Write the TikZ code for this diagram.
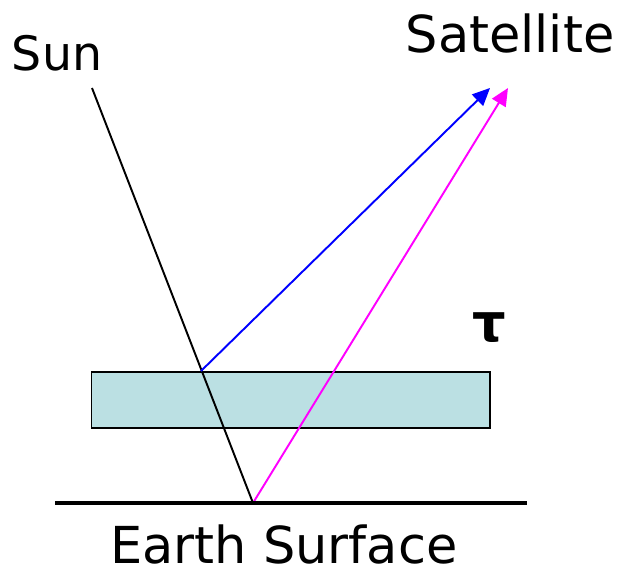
\documentclass[tikz,border=0pt]{standalone}
\usepackage{fontspec}
\setmainfont{DejaVu Sans}
\usetikzlibrary{arrows.meta}
\definecolor{boxfill}{HTML}{BBE0E3}
\definecolor{magray}{HTML}{FF00FF}
\begin{document}
\begin{tikzpicture}[x=0.02cm,y=-0.02cm,
  lbl/.style={font=\fontsize{29}{34}\selectfont, inner sep=0pt, anchor=base},
  ray/.style={line width=1.1pt},
  arr/.style={ray,-{Triangle[length=10pt,width=9pt]}}]
\useasboundingbox (0,0) rectangle (622,567);
\coordinate (sun) at (92,88);
\coordinate (ground) at (253,503);
\coordinate (hit) at (201,371);
\coordinate (satA) at (490,88);
\coordinate (satB) at (508,88);
\coordinate (gl) at (55,503);
\coordinate (gr) at (527,503);
\node[draw=black, line width=1.1pt, fill=boxfill, minimum width=7.98cm, minimum height=1.12cm, anchor=north west, inner sep=0pt] (slab) at (90.5,371.5) {};
\draw[ray] (sun) -- (ground);
\draw[arr,blue] (hit) -- (satA);
\draw[arr,magray] (ground) -- (satB);
\draw[line width=2.3pt] (gl) -- (gr);
\node[lbl, font=\fontsize{27}{32}\selectfont] (sunl) at (57,71) {Sun};
\node[lbl] (satl) at (510,53) {Satellite};
\node[lbl] (earthl) at (284,563) {Earth Surface};
\node[font=\bfseries\fontsize{30}{34}\selectfont, inner sep=0pt] (tau) at (489,328) {τ};
\end{tikzpicture}
\end{document}
